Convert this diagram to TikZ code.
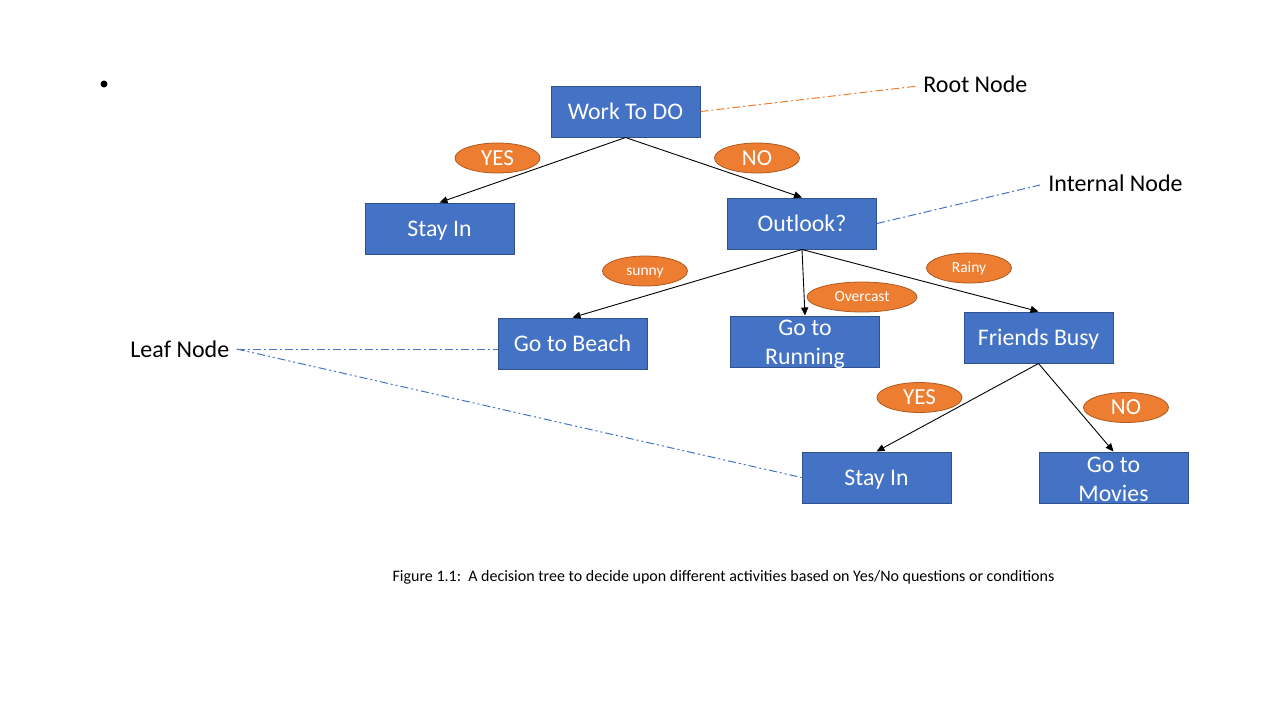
\documentclass[tikz,border=0pt]{standalone}
\usepackage{fontspec}
\setmainfont{Carlito}
\usetikzlibrary{arrows.meta}
\usetikzlibrary{shapes.geometric}

\definecolor{boxblue}{HTML}{4472C4}
\definecolor{boxedge}{HTML}{2F528F}
\definecolor{tagorange}{HTML}{ED7D31}
\definecolor{tagedge}{HTML}{AE5A21}

\tikzset{
  box/.style={draw=boxedge, fill=boxblue, text=white, minimum width=74.5pt, minimum height=25.5pt, inner sep=0pt, line width=0.5pt, text height=7.6pt, text depth=0pt, font=\fontsize{11.9}{14}\selectfont},
  boxtext/.style={text=white, align=center, inner sep=0pt, font=\fontsize{11.9}{14.5}\selectfont},
  tag/.style={ellipse, draw=tagedge, fill=tagorange, text=white, minimum width=42.5pt, minimum height=15pt, inner sep=0pt, line width=0.4pt, text height=7.4pt, text depth=0pt, font=\fontsize{11.5}{14}\selectfont},
  smalltag/.style={tag, text height=4.6pt, font=\fontsize{7.75}{9}\selectfont},
  branch/.style={-{Triangle[length=4pt, width=3.5pt]}, line width=0.45pt},
  callout/.style={inner sep=0pt, font=\fontsize{12}{14}\selectfont},
  pointer/.style={line width=0.5pt, dash pattern=on 4pt off 1.5pt on 1pt off 1.5pt},
  pointerdots/.style={line width=0.5pt, dash pattern=on 4pt off 1.5pt on 1pt off 1.5pt on 1pt off 1.5pt}
}

\begin{document}
\begin{tikzpicture}[x=0.5pt, y=-0.5pt]
\useasboundingbox (0,0) rectangle (1280,720);

\fill (104,84) circle (3.5);

% the tree
\node[box] (work) at (625.5,111.5) {Work To DO};
\node[box] (stayA) at (439.5,228.5) {Stay In};
\node[box] (outlook) at (802,223.5) {Outlook?};
\node[box] (beach) at (572.5,343.5) {Go to Beach};
\node[box] (running) at (805,341.5) {};
\node[boxtext] (runningtext) at ([yshift=-1.5pt]running) {Go to\\Running};
\node[box] (friends) at (1038.5,337.5) {Friends Busy};
\node[box] (stayB) at (876.5,477.5) {Stay In};
\node[box] (movies) at (1113.5,477.5) {};
\node[boxtext] (moviestext) at ([yshift=-0.8pt]movies) {Go to\\Movies};

\draw[branch] (work.south) -- (stayA.north);
\draw[branch] (work.south) -- (outlook.north);
\draw[branch] (outlook.south) -- (beach.north);
\draw[branch] (outlook.south) -- (running.north);
\draw[branch] (outlook.south) -- (friends.north);
\draw[branch] (friends.south) -- (stayB.north);
\draw[branch] (friends.south) -- (movies.north);

\node[tag] (yesA) at (497.5,158) {YES};
\node[tag] (noA) at (757,158) {NO};
\node[smalltag] (sunny) at (645,271) {sunny};
\node[smalltag, minimum width=55pt] (overcast) at (862,297) {Overcast};
\node[smalltag] (rainy) at (969,268) {Rainy};
\node[tag] (yesB) at (919.5,397.5) {YES};
\node[tag] (noB) at (1126,407.5) {NO};

% callouts
\node[callout, anchor=west] (rootlbl) at (923,84) {Root Node};
\node[callout, anchor=west] (internallbl) at (1048,183) {Internal Node};
\node[callout, anchor=west] (leaflbl) at (130,349) {Leaf Node};

\draw[pointer, tagorange] (work.east) -- ([xshift=-2.5pt, yshift=-1pt]rootlbl.west);
\draw[pointer, boxblue] (outlook.east) -- ([xshift=-4pt, yshift=-1pt]internallbl.west);
\draw[pointer, boxblue] ([xshift=3.5pt]leaflbl.east) -- ([yshift=-2.75pt]beach.west);
\draw[pointerdots, boxblue] ([xshift=3.5pt]leaflbl.east) -- (stayB.west);

\node[inner sep=0pt, font=\fontsize{8}{9}\selectfont] (caption) at (723.5,577) {Figure 1.1:\ \ A decision tree to decide upon different activities based on Yes/No questions or conditions};
\end{tikzpicture}
\end{document}
